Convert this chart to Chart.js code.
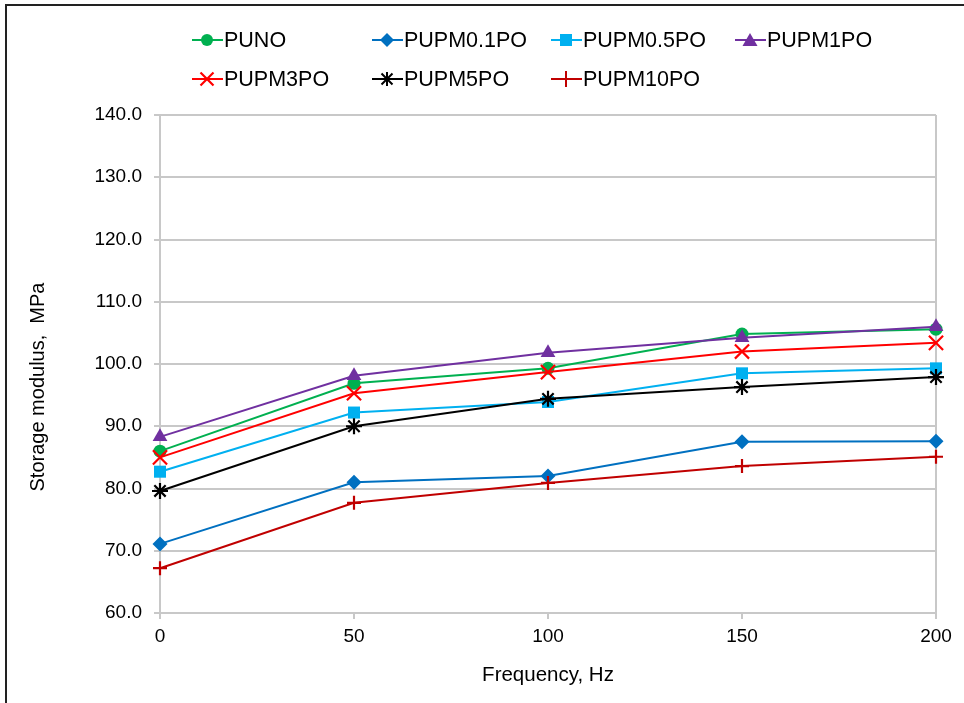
<!DOCTYPE html>
<html>
<head>
<meta charset="utf-8">
<script src="https://cdn.jsdelivr.net/npm/chart.js@4/dist/chart.umd.min.js"></script>
<style>
  html, body { margin: 0; padding: 0; background: #fff; }
  #wrap { position: relative; width: 964px; height: 703px; overflow: hidden; }
  #frame { position: absolute; left: 5px; top: 4px; width: 1000px; height: 800px; border: 2px solid #222; box-sizing: border-box; }
  #c { position: absolute; left: 0; top: 0; }
  .lg { position: absolute; height: 24px; display: flex; align-items: center; font-family: "Liberation Sans", Arial, sans-serif; font-size: 21.5px; color: #000; white-space: nowrap; }
  .lg svg { display: block; margin-right: 1px; }
</style>
</head>
<body>
<div id="wrap">
  <div id="frame"></div>
  <canvas id="c" width="964" height="703"></canvas>
  <div id="legend"></div>
</div>
<script>
// ---- data ----
const frequency = [0, 50, 100, 150, 200];
const seriesNames = ["PUNO", "PUPM0.1PO", "PUPM0.5PO", "PUPM1PO", "PUPM3PO", "PUPM5PO", "PUPM10PO"];
const puno      = [86.0, 96.9, 99.3, 104.8, 105.6];
const pupm01po  = [71.1, 81.0, 82.0, 87.5, 87.6];
const pupm05po  = [82.7, 92.2, 93.9, 98.5, 99.3];
const pupm1po   = [88.3, 98.1, 101.8, 104.2, 106.0];
const pupm3po   = [85.0, 95.3, 98.7, 102.0, 103.4];
const pupm5po   = [79.6, 90.0, 94.4, 96.3, 97.9];
const pupm10po  = [67.2, 77.7, 80.9, 83.6, 85.1];
const yTicks = [60, 70, 80, 90, 100, 110, 120, 130, 140];
const xTicks = [0, 50, 100, 150, 200];
const yTitle = "Storage modulus,  MPa";
const xTitle = "Frequency, Hz";

const seriesValues = [puno, pupm01po, pupm05po, pupm1po, pupm3po, pupm5po, pupm10po];
const colors = ["#00B050", "#0070C0", "#00B0F0", "#7030A0", "#FF0000", "#000000", "#C00000"];
const styles = ["circle", "rectRot", "rect", "triangle", "crossRot", "star", "cross"];
const radii  = [6.5, 7.5, 8.5, 8.5, 10, 8, 7];

const datasets = seriesNames.map((name, i) => ({
  label: name,
  data: frequency.map((f, j) => ({ x: f, y: seriesValues[i][j] })),
  borderColor: colors[i],
  backgroundColor: colors[i],
  pointBackgroundColor: colors[i],
  pointBorderColor: colors[i],
  pointStyle: styles[i],
  pointRadius: radii[i],
  pointBorderWidth: (styles[i] === "crossRot" || styles[i] === "star" || styles[i] === "cross") ? 2.2 : 0,
  borderWidth: 2,
  tension: 0,
  fill: false,
  clip: false,
  order: seriesNames.length - i
}));

const FONT = "'Liberation Sans', Arial, sans-serif";
const GRID = "#c8c8c8";

const yTitlePlugin = {
  id: "yTitle",
  afterDraw(chart) {
    const ctx = chart.ctx;
    ctx.save();
    ctx.font = "20px " + FONT;
    ctx.fillStyle = "#000";
    ctx.textAlign = "center";
    ctx.textBaseline = "middle";
    ctx.translate(38, 387);
    ctx.rotate(-Math.PI / 2);
    ctx.fillText(yTitle, 0, 0);
    ctx.restore();
  }
};

new Chart(document.getElementById("c"), {
  type: "line",
  data: { datasets },
  plugins: [yTitlePlugin],
  options: {
    responsive: false,
    animation: false,
    events: [],
    layout: { padding: { left: 22, right: 28, top: 115, bottom: 11 } },
    plugins: { legend: { display: false }, tooltip: { enabled: false } },
    scales: {
      x: {
        type: "linear",
        min: 0, max: 200,
        afterBuildTicks: (s) => { s.ticks = xTicks.map(v => ({ value: v })); },
        afterFit: (s) => { s.height = 79; },
        grid: {
          color: (ctx) => (ctx.index === xTicks.length - 1 ? GRID : "rgba(0,0,0,0)"),
          tickColor: GRID,
          tickLength: 6,
          lineWidth: 2
        },
        border: { display: true, color: GRID, width: 2 },
        ticks: { color: "#000", font: { family: FONT, size: 19 }, padding: 6, maxRotation: 0 },
        title: { display: true, text: xTitle, color: "#000", font: { family: FONT, size: 20.5 }, padding: { top: 4, bottom: 4 } }
      },
      y: {
        min: 60, max: 140,
        afterBuildTicks: (s) => { s.ticks = yTicks.map(v => ({ value: v })); },
        afterFit: (s) => { s.width = 138; },
        grid: { color: GRID, tickColor: GRID, tickLength: 6, lineWidth: 2 },
        border: { display: true, color: GRID, width: 2 },
        ticks: { color: "#000", font: { family: FONT, size: 19 }, padding: 12, callback: (v) => Number(v).toFixed(1) },
        title: { display: false }
      }
    }
  }
});

// ---- HTML legend ----
const legendPos = [
  [192, 28], [372, 28], [551, 28], [735, 28],
  [192, 67], [372, 67], [551, 67]
];
function markerSvg(style, color) {
  let m = "";
  const cx = 15, cy = 12;
  if (style === "circle") m = `<circle cx="${cx}" cy="${cy}" r="6" fill="${color}"/>`;
  else if (style === "rectRot") m = `<polygon points="${cx},${cy-7} ${cx+7},${cy} ${cx},${cy+7} ${cx-7},${cy}" fill="${color}"/>`;
  else if (style === "rect") m = `<rect x="${cx-6}" y="${cy-6}" width="12" height="12" fill="${color}"/>`;
  else if (style === "triangle") m = `<polygon points="${cx},${cy-7} ${cx+7.5},${cy+6} ${cx-7.5},${cy+6}" fill="${color}"/>`;
  else if (style === "crossRot") m = `<path d="M${cx-6.5},${cy-6.5}L${cx+6.5},${cy+6.5}M${cx+6.5},${cy-6.5}L${cx-6.5},${cy+6.5}" stroke="${color}" stroke-width="2.2"/>`;
  else if (style === "star") m = `<path d="M${cx},${cy-7}L${cx},${cy+7}M${cx-5.5},${cy-5.5}L${cx+5.5},${cy+5.5}M${cx+5.5},${cy-5.5}L${cx-5.5},${cy+5.5}M${cx-7},${cy}L${cx+7},${cy}" stroke="${color}" stroke-width="2"/>`;
  else if (style === "cross") m = `<path d="M${cx},${cy-8}L${cx},${cy+8}M${cx-8},${cy}L${cx+8},${cy}" stroke="${color}" stroke-width="2"/>`;
  return `<svg width="31" height="24"><line x1="0" y1="12" x2="31" y2="12" stroke="${color}" stroke-width="2"/>${m}</svg>`;
}
const lg = document.getElementById("legend");
seriesNames.forEach((name, i) => {
  const d = document.createElement("div");
  d.className = "lg";
  d.style.left = legendPos[i][0] + "px";
  d.style.top = legendPos[i][1] + "px";
  d.innerHTML = markerSvg(styles[i], colors[i]) + "<span>" + name + "</span>";
  lg.appendChild(d);
});
</script>
</body>
</html>
